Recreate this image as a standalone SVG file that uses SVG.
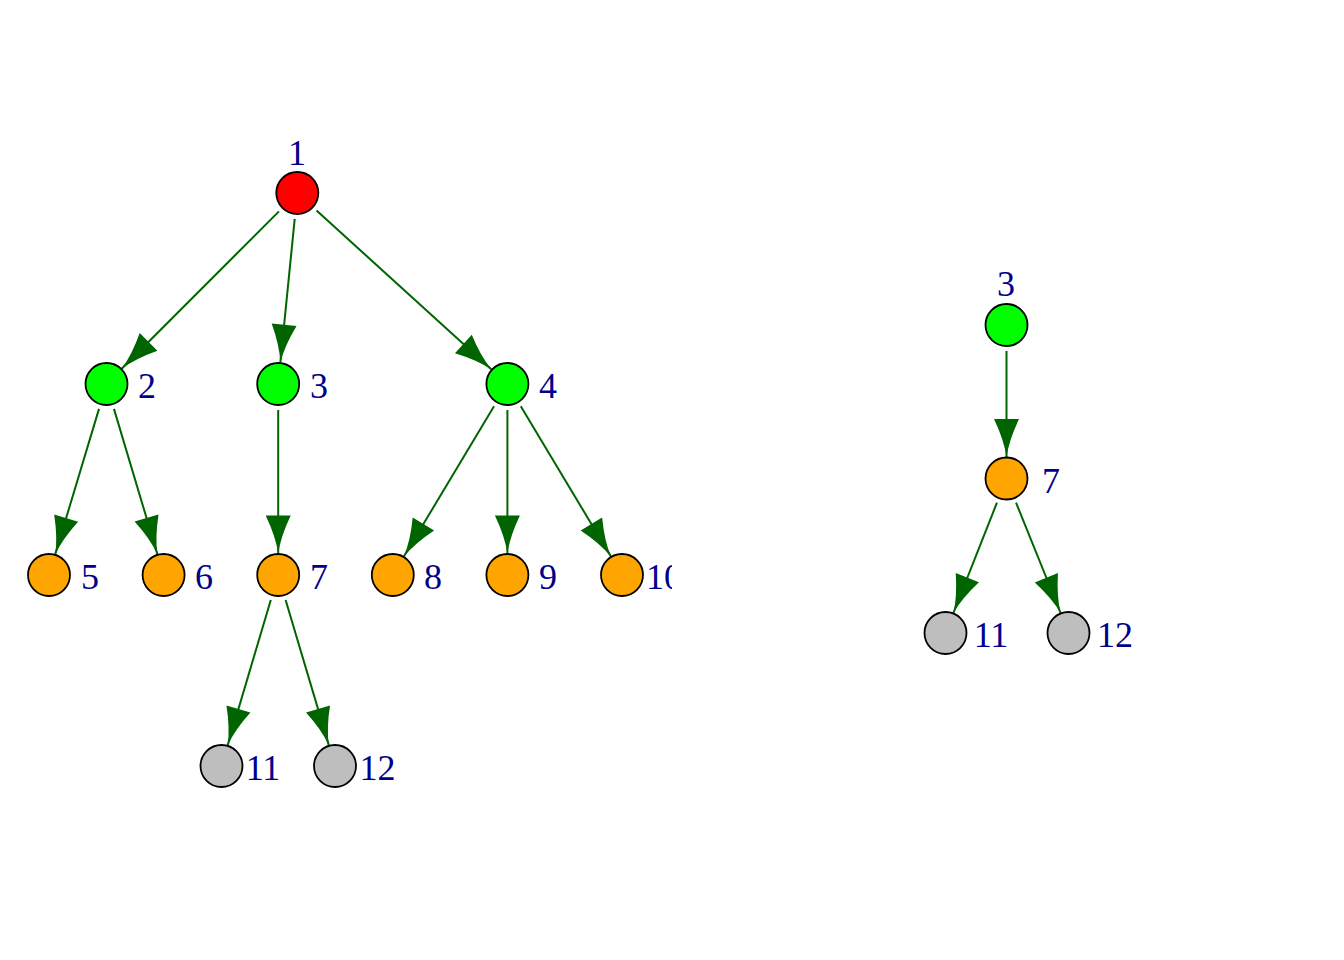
<svg xmlns="http://www.w3.org/2000/svg" width="1344" height="960" viewBox="0 0 1344 960">
<style>
.e{stroke:#006400;stroke-width:2;fill:none;marker-end:url(#ah)}
.n{stroke:#000;stroke-width:1.8}
.red{fill:#FF0000}.grn{fill:#00FF00}.org{fill:#FFA500}.gry{fill:#BEBEBE}
.l{font-family:"Liberation Serif","Times New Roman",serif;font-size:36px;fill:#00008B;text-anchor:middle}
</style>
<defs>
<marker id="ah" markerUnits="userSpaceOnUse" orient="auto" viewBox="-40 -14 42 28" markerWidth="42" markerHeight="28" refX="0" refY="0" overflow="visible">
<path d="M0,0 Q-17,-2.5 -38,-12.5 L-38,12.5 Q-17,2.5 0,0 Z" fill="#006400"/>
</marker>
<clipPath id="leftclip"><rect x="0" y="0" width="672" height="960"/></clipPath>
</defs>
<rect width="1344" height="960" fill="#fff"/>
<g id="left" clip-path="url(#leftclip)">
<g id="connectors-left">
<line class="e" x1="278.93" y1="211.40" x2="121.69" y2="368.79"/>
<line class="e" x1="294.71" y1="218.87" x2="280.34" y2="362.61"/>
<line class="e" x1="316.54" y1="210.49" x2="491.49" y2="369.54"/>
<line class="e" x1="99.00" y1="408.90" x2="55.20" y2="554.41"/>
<line class="e" x1="113.95" y1="408.91" x2="157.44" y2="554.40"/>
<line class="e" x1="278.2" y1="410" x2="278.2" y2="553.5"/>
<line class="e" x1="494.02" y1="406.30" x2="403.86" y2="556.56"/>
<line class="e" x1="507.4" y1="410" x2="507.4" y2="553.5"/>
<line class="e" x1="520.78" y1="406.30" x2="610.94" y2="556.56"/>
<line class="e" x1="270.80" y1="599.93" x2="227.62" y2="745.39"/>
<line class="e" x1="285.61" y1="599.92" x2="328.87" y2="745.39"/>
</g>
<g id="L1"><circle class="n red" cx="297.3" cy="193" r="21"/><text class="l" x="297" y="165">1</text></g>
<g id="L2"><circle class="n grn" cx="106.5" cy="384" r="21"/><text class="l" x="147" y="398">2</text></g>
<g id="L3"><circle class="n grn" cx="278.2" cy="384" r="21"/><text class="l" x="319" y="398">3</text></g>
<g id="L4"><circle class="n grn" cx="507.4" cy="384" r="21"/><text class="l" x="548" y="398">4</text></g>
<g id="L5"><circle class="n org" cx="49" cy="575" r="21"/><text class="l" x="90" y="589">5</text></g>
<g id="L6"><circle class="n org" cx="163.6" cy="575" r="21"/><text class="l" x="204" y="589">6</text></g>
<g id="L7"><circle class="n org" cx="278.2" cy="575" r="21"/><text class="l" x="319" y="589">7</text></g>
<g id="L8"><circle class="n org" cx="392.8" cy="575" r="21"/><text class="l" x="433" y="589">8</text></g>
<g id="L9"><circle class="n org" cx="507.4" cy="575" r="21"/><text class="l" x="548" y="589">9</text></g>
<g id="L10"><circle class="n org" cx="622" cy="575" r="21"/><text class="l" x="664" y="589">10</text></g>
<g id="L11"><circle class="n gry" cx="221.5" cy="766" r="21"/><text class="l" x="263" y="780">11</text></g>
<g id="L12"><circle class="n gry" cx="335" cy="766" r="21"/><text class="l" x="377.5" y="780">12</text></g>
</g>
<g id="right">
<g id="connectors-right">
<line class="e" x1="1006.5" y1="351" x2="1006.5" y2="457"/>
<line class="e" x1="996.95" y1="502.68" x2="953.40" y2="613.00"/>
<line class="e" x1="1016.05" y1="502.68" x2="1060.60" y2="613.00"/>
</g>
<g id="R3"><circle class="n grn" cx="1006.5" cy="325" r="21"/><text class="l" x="1006" y="296">3</text></g>
<g id="R7"><circle class="n org" cx="1006.5" cy="478.5" r="21"/><text class="l" x="1051" y="493">7</text></g>
<g id="R11"><circle class="n gry" cx="945.5" cy="633" r="21"/><text class="l" x="991" y="647">11</text></g>
<g id="R12"><circle class="n gry" cx="1068.5" cy="633" r="21"/><text class="l" x="1115" y="647">12</text></g>
</g>
</svg>
